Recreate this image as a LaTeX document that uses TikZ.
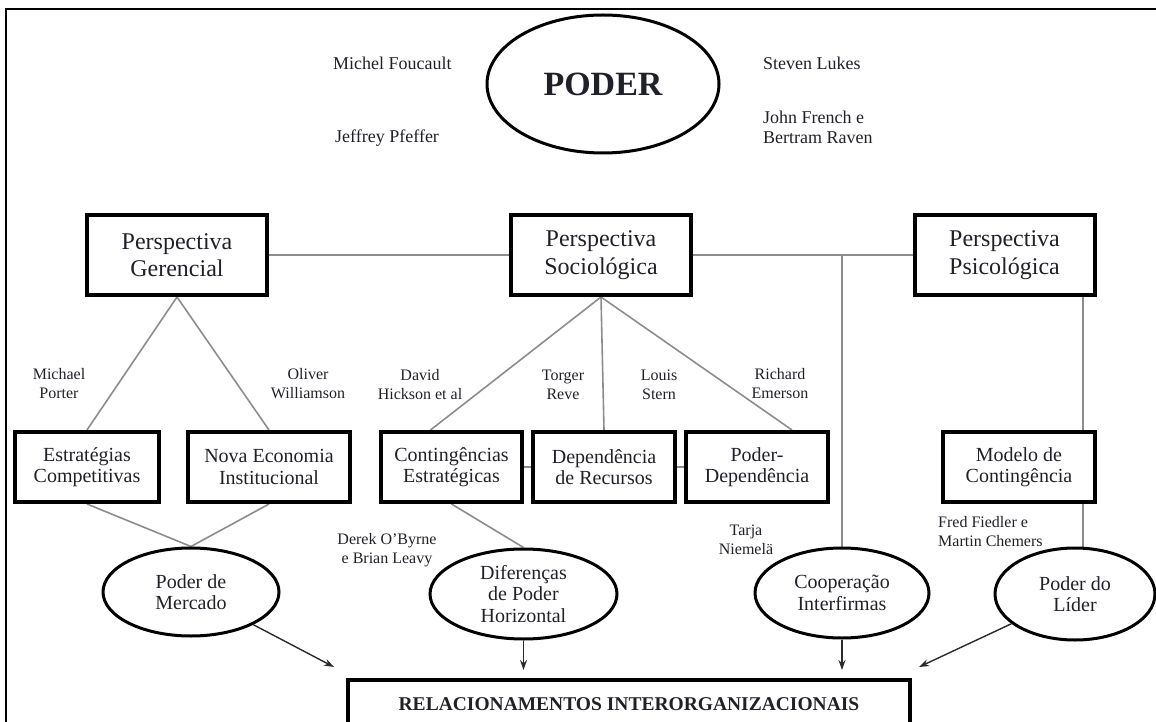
\documentclass[tikz,border=0pt]{standalone}
\usepackage{fontspec}
\setmainfont{Liberation Serif}
\usetikzlibrary{shapes.geometric,arrows.meta,calc}
\pgfdeclarelayer{bg}
\pgfsetlayers{bg,main}
\definecolor{txtcol}{HTML}{202028}
\definecolor{conncol}{HTML}{8C8C8C}
\definecolor{arrcol}{HTML}{2A2A2A}
\begin{document}
\begin{tikzpicture}[x=1pt,y=-1pt,
  every node/.style={text=txtcol},
  topbox/.style={draw=black,line width=4pt,minimum width=180pt,minimum height=80pt,align=center,font=\fontsize{24}{27.5}\selectfont,inner sep=0pt},
  lowbox/.style={draw=black,line width=4pt,minimum height=70pt,align=center,font=\fontsize{20}{21.5}\selectfont,inner sep=0pt},
  oval/.style={draw=black,ellipse,line width=3pt,align=center,font=\fontsize{20}{21.5}\selectfont,inner sep=0pt},
  author/.style={align=center,font=\fontsize{16}{19}\selectfont,inner sep=0pt},
  topauthor/.style={align=left,font=\fontsize{18}{19.5}\selectfont,inner sep=0pt,anchor=west},
  connline/.style={draw=conncol,line width=1.6pt},
  arrowline/.style={draw=arrcol,line width=1.4pt,-{Stealth[length=10pt,width=7pt]}}
]
\useasboundingbox (0,0) rectangle (1156,722);
\clip (0,0) rectangle (1156,722);
% outer frame
\draw[line width=2.5pt] (6,760) -- (6,9) -- (1200,9);

% PODER
\node[draw=black,ellipse,line width=3pt,minimum width=232pt,minimum height=138pt,inner sep=0pt,font=\bfseries\fontsize{34}{38}\selectfont] (poder) at (603,84) {PODER};

% top authors
\node[topauthor] (foucault) at (333,63) {Michel Foucault};
\node[topauthor] (pfeffer) at (335,138) {Jeffrey Pfeffer};
\node[topauthor] (lukes) at (763,63) {Steven Lukes};
\node[topauthor] (french) at (763,127.5) {John French e\\Bertram Raven};

% perspectives
\node[topbox] (ger) at (177,255) {Perspectiva\\Gerencial};
\node[topbox] (soc) at (601,255) {Perspectiva\\Sociológica};
\node[topbox] (psi) at (1004.5,255) {Perspectiva\\Psicológica};

% author labels
\node[author] (porter) at (59,384) {Michael\\Porter};
\node[author] (williamson) at (308,384) {Oliver\\Williamson};
\node[author] (hickson) at (420,385) {David\\Hickson et al};
\node[author] (reve) at (563,385) {Torger\\Reve};
\node[author] (stern) at (659,385) {Louis\\Stern};
\node[author] (emerson) at (780,384) {Richard\\Emerson};
\node[author] (obyrne) at (387,550) {Derek O’Byrne\\e Brian Leavy};
\node[author] (niemela) at (746,540) {Tarja\\Niemelä};
\node[author,align=left,anchor=west] (fiedler) at (938,532) {Fred Fiedler e\\Martin Chemers};

% lower boxes
\node[lowbox,minimum width=144pt] (est) at (87,467) {Estratégias\\Competitivas};
\node[lowbox,minimum width=162pt] (nova) at (269,467) {Nova Economia\\Institucional};
\node[lowbox,minimum width=141pt] (cont) at (451.5,467) {Contingências\\Estratégicas};
\node[lowbox,minimum width=142pt] (dep) at (604,467) {Dependência\\de Recursos};
\node[lowbox,minimum width=142pt] (pd) at (757,467) {Poder-\\Dependência};
\node[lowbox,minimum width=152pt] (mod) at (1019,467) {Modelo de\\Contingência};

% ellipses
\node[oval,minimum width=176pt,minimum height=88pt] (pm) at (191,592) {Poder de\\Mercado};
\node[oval,minimum width=187pt,minimum height=90pt] (dif) at (523.5,594) {Diferenças\\de Poder\\Horizontal};
\node[oval,minimum width=174pt,minimum height=90pt] (coop) at (842,593) {Cooperação\\Interfirmas};
\node[oval,minimum width=160pt,minimum height=92pt] (lider) at (1075,594) {Poder do\\Líder};

% result box
\node[draw=black,line width=4pt,minimum width=562pt,minimum height=48pt,inner sep=0pt,font=\bfseries\fontsize{19.5}{22}\selectfont] (rel) at (629,704) {RELACIONAMENTOS INTERORGANIZACIONAIS};

% connectors
\coordinate (j) at (coop.north |- soc.east);
\coordinate (vx) at (1083,0);
\begin{pgfonlayer}{bg}
\draw[connline] (ger.east) -- (soc.west);
\draw[connline] (soc.east) -- (psi.west);
\draw[connline] (j) -- (coop.north);
\draw[connline] (ger.south) -- (est.north);
\draw[connline] (ger.south) -- (nova.north);
\draw[connline] (soc.south) -- ([xshift=-21pt]cont.north);
\draw[connline] (soc.south) -- (dep.north);
\draw[connline] (soc.south) -- ([xshift=35pt]pd.north);
\draw[connline] (cont.east) -- (dep.west);
\draw[connline] (dep.east) -- (pd.west);
\draw[connline] (psi.south -| vx) -- (mod.north -| vx);
\draw[connline] (mod.south -| vx) -- (lider.north -| vx);
\draw[connline] (est.south) -- (pm.north);
\draw[connline] (nova.south) -- (pm.north);
\draw[connline] (cont.south) -- (dif.north);
\end{pgfonlayer}

% arrows
\coordinate (a1) at (334,667);
\coordinate (a2) at (523.5,670);
\coordinate (a3) at (842,670);
\coordinate (a4) at (919,667);
\draw[arrowline] (pm) -- (a1);
\draw[arrowline] (dif) -- (a2);
\draw[arrowline] (coop) -- (a3);
\draw[arrowline] (lider) -- (a4);
\end{tikzpicture}
\end{document}
